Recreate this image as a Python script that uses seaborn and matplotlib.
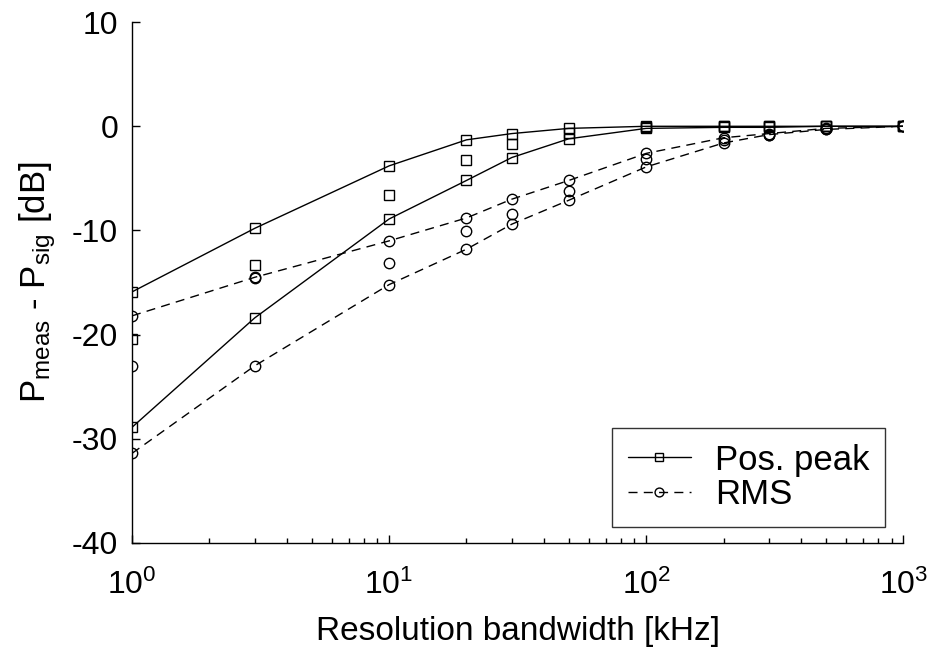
import matplotlib
matplotlib.use("Agg")
import matplotlib.pyplot as plt
import matplotlib.ticker as mticker
import numpy as np
import seaborn as sns

# ----- data -----
rbw_khz = [1, 3, 10, 20, 30, 50, 100, 200, 300, 500, 1000]

peak_upper = [-15.9, -9.8, -3.8, -1.3, -0.7, -0.2, 0.0, 0.0, 0.0, 0.0, 0.0]
peak_mid = [-20.4, -13.3, -6.6, -3.2, -1.7, -0.6, -0.1, 0.0, 0.0, 0.0, 0.0]
peak_lower = [-28.9, -18.4, -8.9, -5.2, -3.0, -1.2, -0.2, -0.1, -0.1, 0.0, 0.0]

rms_upper = [-18.2, -14.5, -11.0, -8.8, -7.0, -5.2, -2.6, -1.1, -0.7, -0.2, 0.0]
rms_mid = [-23.0, -14.6, -13.1, -10.1, -8.4, -6.2, -3.1, -1.35, -0.8, -0.3, 0.0]
rms_lower = [-31.4, -23.0, -15.2, -11.8, -9.4, -7.1, -3.9, -1.6, -0.8, -0.3, 0.0]

y_ticks = [-40, -30, -20, -10, 0, 10]

# ----- style -----
sns.set_style("ticks")
plt.rcParams["font.family"] = ["Liberation Sans", "DejaVu Sans"]
plt.rcParams["mathtext.fontset"] = "custom"
plt.rcParams["mathtext.rm"] = "Liberation Sans"
plt.rcParams["mathtext.it"] = "Liberation Sans:italic"
plt.rcParams["mathtext.default"] = "rm"
plt.rcParams["axes.unicode_minus"] = False

fig = plt.figure(figsize=(9.27, 6.51), dpi=100)
ax = fig.add_axes([0.1424, 0.166, 0.832, 0.800])

sq = dict(marker="s", markersize=7.5, markerfacecolor="none",
          markeredgecolor="black", markeredgewidth=1.0)
ci = dict(marker="o", markersize=7.5, markerfacecolor="none",
          markeredgecolor="black", markeredgewidth=1.0)
dash = (6.5, 4.5)

# Pos. peak: two bounding curves with lines, middle values as bare markers
sns.lineplot(x=rbw_khz, y=peak_upper, ax=ax, color="black", lw=1.0,
             label="Pos. peak", estimator=None, sort=False, **sq)
sns.lineplot(x=rbw_khz, y=peak_lower, ax=ax, color="black", lw=1.0,
             estimator=None, sort=False, **sq)
ax.plot(rbw_khz, peak_mid, linestyle="none", **sq)

# RMS: same layout, dashed
sns.lineplot(x=rbw_khz, y=rms_upper, ax=ax, color="black", lw=1.0,
             label="RMS", estimator=None, sort=False, **ci)
sns.lineplot(x=rbw_khz, y=rms_lower, ax=ax, color="black", lw=1.0,
             estimator=None, sort=False, **ci)
ax.plot(rbw_khz, rms_mid, linestyle="none", **ci)

for ln in ax.lines:
    if ln.get_marker() == "o" and ln.get_linestyle() != "None":
        ln.set_dashes(dash)

ax.set_xscale("log")
ax.set_xlim(1, 1000)
ax.set_ylim(-40, 10)
ax.set_yticks(y_ticks)
ax.xaxis.set_minor_locator(mticker.LogLocator(base=10, subs=np.arange(2, 10)))
ax.xaxis.set_minor_formatter(mticker.NullFormatter())

sns.despine(ax=ax)
for side in ("left", "bottom"):
    ax.spines[side].set_color("black")
    ax.spines[side].set_linewidth(1.0)

ax.tick_params(which="major", direction="in", length=6, width=1,
               labelsize=23, colors="black", bottom=True, left=True)
ax.tick_params(which="minor", direction="in", length=3.6, width=1,
               colors="black", bottom=True)
ax.tick_params(axis="y", which="minor", left=False)
ax.tick_params(axis="x", which="major", pad=19)
ax.tick_params(axis="y", which="major", pad=10)

ax.set_xlabel("Resolution bandwidth [kHz]", fontsize=24, labelpad=11,
              color="black")
ax.set_ylabel(r"P$_{\mathrm{meas}}$ - P$_{\mathrm{sig}}$ [dB]", fontsize=25,
              labelpad=10, color="black")

leg = ax.legend(loc="lower right", bbox_to_anchor=(885 / 927, 1 - 527 / 651),
                bbox_transform=fig.transFigure, borderaxespad=0,
                fontsize=25, frameon=True, fancybox=False, edgecolor="black",
                handlelength=1.8, borderpad=0.45, labelspacing=0.05,
                handletextpad=0.7, markerscale=0.85)
leg.get_frame().set_linewidth(1.0)
for t in leg.get_texts():
    t.set_color("black")

fig.savefig("out.png", dpi=100, facecolor="white")
